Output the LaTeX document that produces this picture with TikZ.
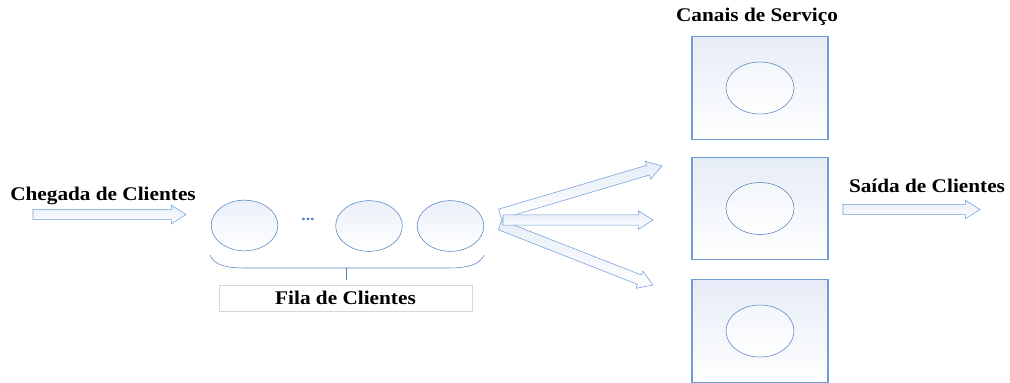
\documentclass[tikz,border=0pt]{standalone}
\usepackage{fontspec}
\setmainfont[FakeStretch=1.1]{Liberation Serif}
\usetikzlibrary{shapes.geometric,calc}
\definecolor{linha}{RGB}{79,129,189}
\definecolor{seta}{RGB}{110,158,214}
\definecolor{fundo}{RGB}{230,236,247}
\definecolor{caixa}{RGB}{215,215,215}
\newcommand{\rotulo}{\fontsize{14.5}{17}\selectfont\bfseries}
\newcommand{\haste}{3.8pt}
\newcommand{\ponta}{7pt}
\newcommand{\bico}{11pt}
\newcommand{\setabloco}[2]{%
  \path ($(#2)!\bico!(#1)$) coordinate (sb);
  \draw[seta bloco] ($(#1)!\haste!90:(#2)$) -- ($(sb)!\haste!-90:(#1)$) -- ($(sb)!\ponta!-90:(#1)$)
     -- (#2) -- ($(sb)!\ponta!90:(#1)$) -- ($(sb)!\haste!90:(#1)$) -- ($(#1)!\haste!-90:(#2)$) -- cycle;}

\begin{document}
\begin{tikzpicture}[x=0.75pt,y=-0.75pt,
   fila/.style={ellipse,draw=linha,top color=fundo!80,bottom color=white,minimum width=50pt,minimum height=38pt,inner sep=0pt},
   canal/.style={draw=seta,line width=0.9pt,top color=fundo,bottom color=white,minimum width=102pt,minimum height=77pt},
   atend/.style={ellipse,draw=linha,top color=fundo!50,bottom color=white,minimum width=51pt,minimum height=39pt,inner sep=0pt},
   seta bloco/.style={draw=seta,top color=fundo,bottom color=white,line join=miter},
   rot/.style={font=\rotulo}]
   \useasboundingbox (0,0) rectangle (1010,382);
   \clip (0,0) rectangle (1010,382);
   % chegada
   \node[rot] (chegada) at (103,196) {Chegada de Clientes};
   \coordinate (ent-a) at (33,214.5);
   \coordinate (ent-b) at (186,214.5);
   \setabloco{ent-a}{ent-b}
   % fila
   \node[fila] (c1) at (244.5,225.5) {};
   \node[text=linha,font=\large\bfseries] (pts) at (308,219) {...};
   \node[fila] (c2) at (369,226) {};
   \node[fila] (c3) at (450.5,226) {};
   \coordinate (ch-e) at (210,255);
   \coordinate (ch-d) at (484,255);
   \coordinate (ch-m) at (346,268);
   \coordinate (ch-t) at (346,280);
   \draw[linha] (ch-e) .. controls (214,265) and (226,268) .. (245,268) -- (448,268)
      .. controls (467,268) and (480,265) .. (ch-d);
   \draw[linha] (ch-m) -- (ch-t);
   \node[draw=caixa,rot,minimum width=190pt,minimum height=19.5pt] (fila) at (345.5,298) {Fila de Clientes};
   % canais
   \node[rot] (canais) at (757,17) {Canais de Serviço};
   \foreach \i/\y in {1/88,2/208.5,3/331} {
      \node[canal] (s\i) at (760,\y) {};
      \node[atend] (a\i) at (s\i) {};
   }
   \coordinate (t1) at (500,214);
   \coordinate (t2) at (503,220);
   \coordinate (t3) at (500,225);
   \coordinate (p1) at (662,166);
   \coordinate (p2) at (653,220);
   \coordinate (p3) at (653,285);
   \setabloco{t1}{p1}
   \setabloco{t3}{p3}
   \setabloco{t2}{p2}
   % saida
   \node[rot] (saida) at (927,186) {Saída de Clientes};
   \coordinate (sai-a) at (843,209.5);
   \coordinate (sai-b) at (980,209.5);
   \setabloco{sai-a}{sai-b}
\end{tikzpicture}
\end{document}
